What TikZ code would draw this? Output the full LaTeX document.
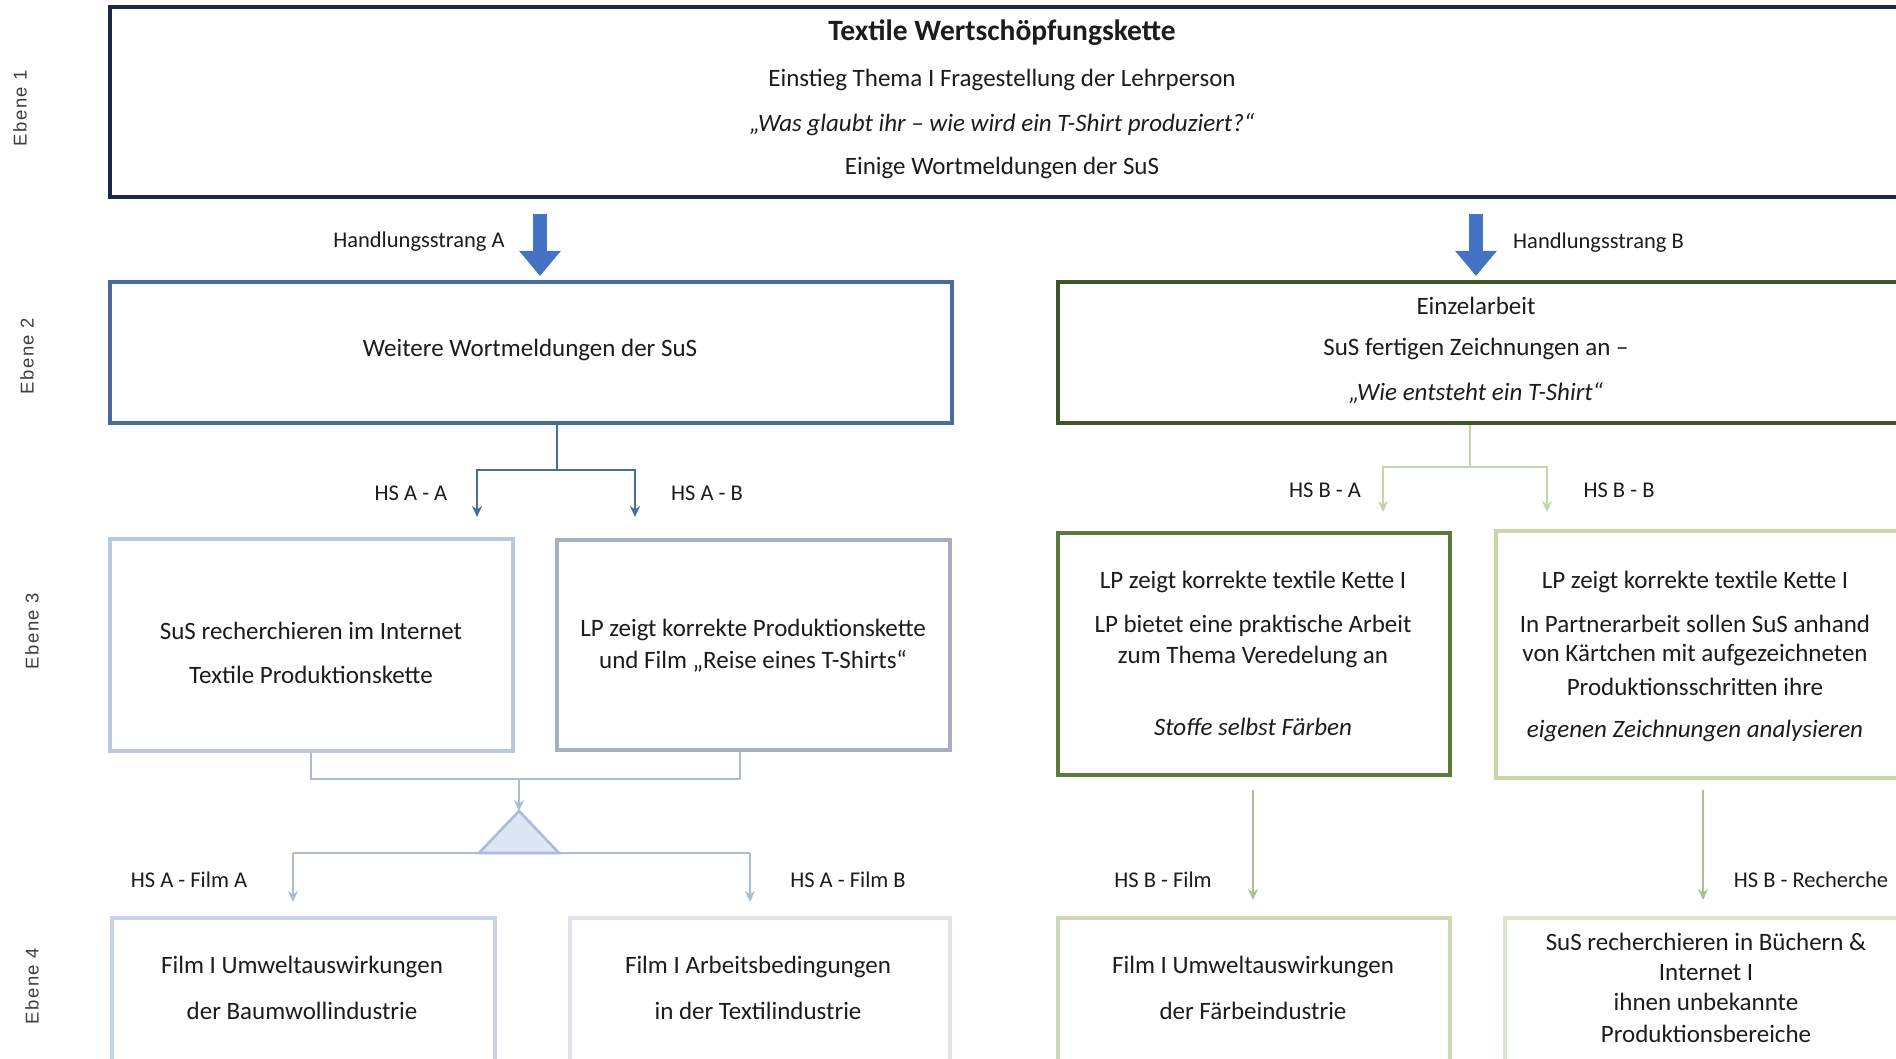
\documentclass[tikz,border=0pt]{standalone}
\usepackage{fontspec}
\setmainfont{Carlito}
\newfontfamily\ebfont[LetterSpace=8]{Liberation Sans}
\usetikzlibrary{arrows.meta}
\definecolor{navy}{HTML}{1B2747}
\definecolor{blockblue}{HTML}{4472C4}
\definecolor{steel}{HTML}{4A6B9F}
\definecolor{olive}{HTML}{3E5527}
\definecolor{lgreen}{HTML}{C3D7A6}
\definecolor{mgreen}{HTML}{A9C28E}
\definecolor{ggreen}{HTML}{5D7A3C}
\definecolor{pgreen}{HTML}{C6DAA8}
\definecolor{lblue}{HTML}{B9C8DE}
\definecolor{gblue}{HTML}{A8AEC0}
\definecolor{cblue}{HTML}{A9BCD8}
\definecolor{tfill}{HTML}{DCE6F4}
\definecolor{vblue}{HTML}{C9D5E7}
\definecolor{wblue}{HTML}{DEE5EF}
\definecolor{vgreen}{HTML}{CADBB2}
\definecolor{wgreen}{HTML}{DAE6CB}
\definecolor{ink}{HTML}{1C1C1C}
\begin{document}
\begin{tikzpicture}[x=1pt,y=-1pt,
  box/.style={draw, rectangle, inner sep=0pt, fill=white},
  txt/.style={font=\fontsize{25}{30}\selectfont, text=ink, inner sep=0pt, anchor=center},
  itx/.style={txt, font=\fontsize{25}{30}\selectfont\itshape},
  lbl/.style={font=\fontsize{22.5}{27}\selectfont, text=ink, inner sep=0pt, anchor=center},
  eb/.style={font=\ebfont\fontsize{18.5}{22}\selectfont, text=ink!85, rotate=90, inner sep=0pt, anchor=center},
  bigarrow/.style={draw=blockblue!80!black, line width=14pt, blockblue, -{Triangle[length=25pt,width=40pt]}},
  conA/.style={draw=steel, line width=2.6pt},
  conB/.style={draw=lgreen, line width=2.6pt},
  conC/.style={draw=cblue, line width=2.6pt},
  conD/.style={draw=mgreen, line width=2.6pt},
  tip/.style={-{Stealth[length=11pt,width=10pt]}}
]
\useasboundingbox (0,0) rectangle (1896,1059);
\clip (0,0) rectangle (1896,1059);

% Ebene labels
\node[eb] (eb1) at (20,108) {Ebene 1};
\node[eb] (eb2) at (27,356) {Ebene 2};
\node[eb] (eb3) at (32,631) {Ebene 3};
\node[eb] (eb4) at (32,986) {Ebene 4};

% Ebene 1
\node[box, draw=navy, line width=4.5pt, minimum width=1790pt, minimum height=190pt] (top) at (1005,102) {};
\node[txt, font=\fontsize{29.5}{34}\selectfont\bfseries] (t1) at (1002,33) {Textile Wertschöpfungskette};
\node[txt] (t2) at (1002,80) {Einstieg Thema I Fragestellung der Lehrperson};
\node[itx] (t3) at (1002,125) {„Was glaubt ihr – wie wird ein T-Shirt produziert?“};
\node[txt] (t4) at (1002,168) {Einige Wortmeldungen  der SuS};

% Block arrows
\coordinate (ha1) at (540,214);
\coordinate (ha2) at (540,276);
\coordinate (hb1) at (1476,214);
\coordinate (hb2) at (1476,276);
\draw[bigarrow] (ha1) -- (ha2);
\draw[bigarrow] (hb1) -- (hb2);
\node[lbl] (lha) at (419,242) {Handlungsstrang A};
\node[lbl, anchor=west] (lhb) at (1513,243) {Handlungsstrang B};

% Ebene 2
\node[box, draw=steel, line width=4pt, minimum width=842pt, minimum height=141pt] (e2a) at (531,352.5) {};
\node[txt] (e2at) at (530,350) {Weitere Wortmeldungen  der SuS};
\node[box, draw=olive, line width=4pt, minimum width=842pt, minimum height=141pt] (e2b) at (1479,352.5) {};
\node[txt] (e2bt1) at (1476,306) {Einzelarbeit};
\node[txt] (e2bt2) at (1476,349) {SuS  fertigen Zeichnungen an –};
\node[itx] (e2bt3) at (1476,393) {„Wie entsteht ein T-Shirt“};

% Connectors Ebene 2 -> 3
\coordinate (jA) at (557,470);
\coordinate (tAA) at (477,517);
\coordinate (tAB) at (635,517);
\draw[conA] (jA |- e2a.south) -- (jA);
\draw[conA, tip] (jA) -| (tAA);
\draw[conA, tip] (jA) -| (tAB);
\node[lbl] (lAA) at (411,493) {HS A - A};
\node[lbl] (lAB) at (707,493) {HS A - B};

\coordinate (jB) at (1470,467);
\coordinate (tBA) at (1383,512);
\coordinate (tBB) at (1547,512);
\draw[conB] (jB |- e2b.south) -- (jB);
\draw[conB, tip] (jB) -| (tBA);
\draw[conB, tip] (jB) -| (tBB);
\node[lbl] (lBA) at (1325,490) {HS B - A};
\node[lbl] (lBB) at (1619,490) {HS B - B};

% Ebene 3
\node[box, draw=lblue, line width=4pt, minimum width=403pt, minimum height=212pt] (e3a1) at (311.5,645) {};
\node[txt] (e3a1t1) at (311,631) {SuS recherchieren im Internet};
\node[txt] (e3a1t2) at (311,675) {Textile Produktionskette};
\node[box, draw=gblue, line width=4pt, minimum width=393pt, minimum height=210pt] (e3a2) at (753.5,645) {};
\node[txt] (e3a2t1) at (753,630) {LP zeigt korrekte  Produktionskette};
\node[txt] (e3a2t2) at (753,661) {und Film  „Reise eines T-Shirts“};

\node[box, draw=ggreen, line width=4.5pt, minimum width=392pt, minimum height=242pt] (e3b1) at (1254,654) {};
\node[txt] (e3b1t1) at (1253,582) {LP zeigt korrekte  textile Kette I};
\node[txt] (e3b1t2) at (1253,626) {LP bietet eine praktische Arbeit};
\node[txt] (e3b1t3) at (1253,657) {zum  Thema Veredelung  an};
\node[itx] (e3b1t4) at (1253,727) {Stoffe selbst Färben};
\node[box, draw=pgreen, line width=4pt, minimum width=404pt, minimum height=247pt] (e3b2) at (1698,654.5) {};
\node[txt] (e3b2t1) at (1695,582) {LP zeigt korrekte  textile Kette I};
\node[txt] (e3b2t2) at (1695,624) {In Partnerarbeit  sollen SuS anhand};
\node[txt] (e3b2t3) at (1695,655) {von Kärtchen mit aufgezeichneten};
\node[txt] (e3b2t4) at (1695,687) {Produktionsschritten  ihre};
\node[itx] (e3b2t5) at (1695,731) {eigenen Zeichnungen analysieren};

% Connectors Ebene 3 -> 4 (A)
\coordinate (jC) at (519,779);
\coordinate (apex) at (519,811);
\draw[conC] (e3a1.south -| 311,0) -- (311,779) -- (740,779) -- (e3a2.south -| 740,0);
\draw[conC, -{Stealth[length=11pt,width=10pt]}] (jC) -- (apex);
\draw[draw=cblue, line width=2.6pt, fill=tfill, line join=miter] (apex) -- (559,853) -- (479,853) -- cycle;
\coordinate (jL) at (293,853);
\coordinate (jR) at (750,853);
\coordinate (tFA) at (293,902);
\coordinate (tFB) at (750,902);
\draw[conC] (jL) -- (jR);
\draw[conC, tip] (jL) -- (tFA);
\draw[conC, tip] (jR) -- (tFB);
\node[lbl] (lFA) at (189,880) {HS A - Film A};
\node[lbl] (lFB) at (848,880) {HS A - Film B};

% Connectors Ebene 3 -> 4 (B)
\coordinate (sB1) at (1253,790);
\coordinate (tB1) at (1253,900);
\coordinate (sB2) at (1703,790);
\coordinate (tB2) at (1703,900);
\draw[conD, tip] (sB1) -- (tB1);
\draw[conD, tip] (sB2) -- (tB2);
\node[lbl] (lBF) at (1163,880) {HS B - Film};
\node[lbl] (lBR) at (1811,880) {HS B - Recherche};

% Ebene 4
\node[box, draw=vblue, line width=3.5pt, minimum width=383pt, minimum height=152pt] (e4a1) at (303.5,994) {};
\node[txt] (e4a1t1) at (302,967) {Film I Umweltauswirkungen};
\node[txt] (e4a1t2) at (302,1011) {der Baumwollindustrie};
\node[box, draw=wblue, line width=3.5pt, minimum width=380pt, minimum height=152pt] (e4a2) at (760,994) {};
\node[txt] (e4a2t1) at (758,967) {Film I Arbeitsbedingungen};
\node[txt] (e4a2t2) at (758,1011) {in der Textilindustrie};
\node[box, draw=vgreen, line width=3.5pt, minimum width=392pt, minimum height=152pt] (e4b1) at (1254,994) {};
\node[txt] (e4b1t1) at (1253,967) {Film I Umweltauswirkungen};
\node[txt] (e4b1t2) at (1253,1011) {der Färbeindustrie};
\node[box, draw=wgreen, line width=3.5pt, minimum width=395pt, minimum height=152pt] (e4b2) at (1702.5,994) {};
\node[txt] (e4b2t1) at (1706,942) {SuS recherchieren in Büchern \&};
\node[txt] (e4b2t2) at (1706,973) {Internet I};
\node[txt] (e4b2t3) at (1706,1002) {ihnen unbekannte};
\node[txt] (e4b2t4) at (1706,1034) {Produktionsbereiche};
\end{tikzpicture}
\end{document}
